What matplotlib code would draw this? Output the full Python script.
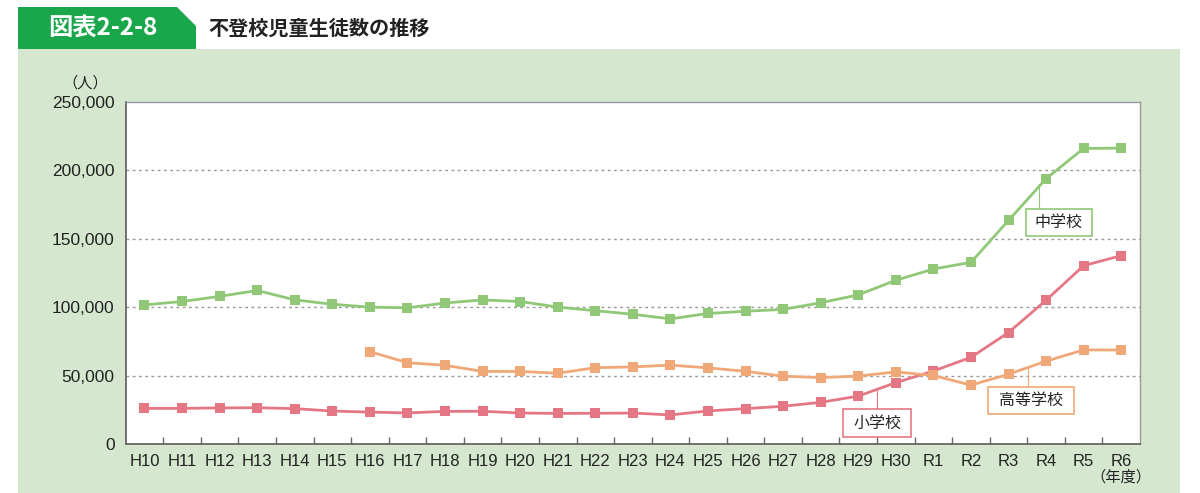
import numpy as np
import matplotlib
matplotlib.use("Agg")
import matplotlib.pyplot as plt
from matplotlib.patches import Rectangle, Polygon

plt.rcParams['font.family'] = ['Liberation Sans', 'Noto Sans CJK JP', 'DejaVu Sans']

# 年度
years = ['H10', 'H11', 'H12', 'H13', 'H14', 'H15', 'H16', 'H17', 'H18', 'H19',
         'H20', 'H21', 'H22', 'H23', 'H24', 'H25', 'H26', 'H27', 'H28', 'H29',
         'H30', 'R1', 'R2', 'R3', 'R4', 'R5', 'R6']

# 小学校
elementary = [26017, 26047, 26373, 26511, 25869, 24077, 23318, 22709, 23825, 23927,
              22652, 22327, 22463, 22622, 21243, 24175, 25864, 27583, 30448, 35032,
              44841, 53350, 63350, 81498, 105112, 130370, 137704]

# 中学校
junior_high = [101675, 104180, 107913, 112211, 105383, 102149, 100040, 99578, 103069, 105328,
               104153, 100105, 97428, 94836, 91446, 95442, 97033, 98408, 103235, 108999,
               119687, 127922, 132777, 163442, 193936, 216112, 216266]

# 高等学校 (H16から)
high_start = 6
high_school = [67500, 59419, 57544, 53041, 53024, 51728, 55776, 56361, 57664, 55655,
               53156, 49563, 48565, 49643, 52723, 50100, 43051, 50985, 60575, 68770,
               68700]

green = '#90c878'
pink = '#e57785'
orange = '#f0a878'
panel = '#d5e8cf'
tab = '#1aa64a'
cjk = ['Noto Sans CJK JP', 'DejaVu Sans']

W, H = 1200, 493
fig = plt.figure(figsize=(W / 100, H / 100), dpi=100)
fig.patch.set_facecolor('white')


def fx(x):
    return x / W


def fy(y):
    return 1 - y / H


# background panel and title tab
fig.patches.append(Rectangle((fx(18), 0), fx(1180) - fx(18), fy(49), transform=fig.transFigure,
                             facecolor=panel, edgecolor='none', zorder=-2))
tab_pts = [(18, 7), (177, 7), (196, 26), (196, 49), (18, 49)]
fig.patches.append(Polygon([(fx(a), fy(b)) for a, b in tab_pts], closed=True,
                           transform=fig.transFigure, facecolor=tab, edgecolor='none', zorder=-2))
fig.text(fx(103), fy(28), '図表2-2-8', color='white', fontsize=17.5, fontweight='bold',
         ha='center', va='center', family=cjk)
fig.text(fx(208), fy(28), '不登校児童生徒数の推移', color='#222222', fontsize=14.5,
         fontweight='bold', ha='left', va='center', family=cjk)

ax = fig.add_axes([fx(125.7), fy(444), fx(1140) - fx(125.7), fy(102) - fy(444)])
ax.set_facecolor('white')

x = np.arange(len(years))
mk = dict(marker='s', markersize=7, linewidth=2, markeredgewidth=0)
ax.plot(x, junior_high, color=green, zorder=3, **mk)
ax.plot(x, elementary, color=pink, zorder=4, **mk)
ax.plot(x[high_start:], high_school, color=orange, zorder=5, **mk)

ax.set_xlim(-0.5, len(years) - 0.5)
ax.set_ylim(0, 250000)
ax.set_yticks(np.arange(0, 250001, 50000))
ax.set_yticklabels([f'{v:,}' for v in range(0, 250001, 50000)], fontsize=12.5, color='#222222')
ax.tick_params(axis='y', length=0, pad=8)
ax.set_xticks(x)
ax.set_xticklabels(years, fontsize=12, color='#222222')
ax.tick_params(axis='x', which='major', length=0, pad=7)
ax.set_xticks(np.arange(0.5, len(years) - 1, 1), minor=True)
ax.tick_params(axis='x', which='minor', direction='in', length=5, width=1, color='#666666')

for v in [50000, 100000, 150000, 200000]:
    ax.axhline(v, color='#999999', linewidth=1, linestyle=(0, (2, 2.5)), zorder=1)

for side in ['left', 'bottom']:
    ax.spines[side].set_color('#666666')
    ax.spines[side].set_linewidth(1.3)
for side in ['top', 'right']:
    ax.spines[side].set_color('#999999')
    ax.spines[side].set_linewidth(1.0)

fig.text(fx(85), fy(83), '（人）', fontsize=11, ha='center', va='center', color='#222222', family=cjk)
fig.text(fx(1121), fy(477), '（年度）', fontsize=11, ha='center', va='center', color='#222222',
         family=cjk)

# one category = 37.57 px, 250,000 = 342 px
px_x = 1 / 37.57
px_y = 250000 / 342


# series labels with leader lines
def label(text, xc, y_top, w, h, x_lead, y_line, color):
    ax.plot([x_lead, x_lead], [y_line, y_top], color=color, linewidth=0.8, zorder=2)
    ax.add_patch(Rectangle((xc - w * px_x / 2, y_top - h * px_y), w * px_x, h * px_y,
                           facecolor='white', edgecolor=color, linewidth=1.2, zorder=6))
    ax.text(xc, y_top - h * px_y / 2, text, fontsize=11.5, ha='center', va='center',
            color='#222222', family=cjk, zorder=7)


label('中学校', 24.34, 171800, 66, 27, 23.81, 190000, green)
label('高等学校', 23.61, 41700, 86, 27, 23.53, 56300, orange)
label('小学校', 19.50, 25600, 68, 28, 19.50, 39800, pink)

fig.savefig('out.png', dpi=100, facecolor=fig.get_facecolor())
